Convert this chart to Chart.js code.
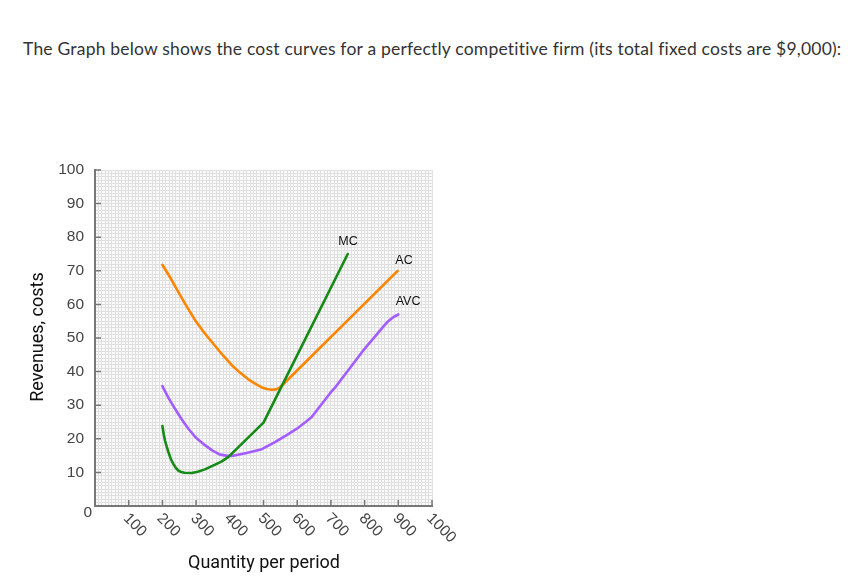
<!DOCTYPE html>
<html lang="en">
<head>
  <meta charset="UTF-8">
  <title>Cost curves</title>
  <style>
    body, html {
      margin: 0;
      padding: 0;
      background: #fff;
      width: 862px;
      height: 587px;
      overflow: hidden;
    }
    .question {
      position: absolute;
      left: 23px;
      top: 38px;
      font-family: Lato, sans-serif;
      font-size: 17.5px;
      letter-spacing: 0.2px;
      color: #333;
      white-space: nowrap;
    }
    #chart {
      position: absolute;
      left: 0;
      top: 0;
    }
  </style>
</head>
<body>
  <div class="question">The Graph below shows the cost curves for a perfectly competitive firm (its total fixed costs are $9,000):</div>
  <canvas id="chart" width="862" height="587"></canvas>

  <script src="https://cdn.jsdelivr.net/npm/chart.js"></script>
  <script>
    // data (quantity, cost)
    var mcQty  = [200, 204, 208, 213, 218, 225, 232, 240, 248, 256, 265, 287, 305, 326, 350, 375, 396, 500, 750];
    var mcCost = [23.8, 21.3, 19.4, 17.6, 16.0, 14.0, 12.6, 11.3, 10.5, 10.1, 9.9, 9.8, 10.2, 10.9, 12.0, 13.2, 14.6, 24.8, 75];

    var acQty  = [200, 225, 247, 272, 297, 325, 351, 380, 406, 430, 455, 475, 495, 510, 525, 537, 548, 898];
    var acCost = [71.8, 67.7, 63.7, 59.4, 55.3, 51.5, 48.3, 44.8, 41.9, 39.7, 37.7, 36.4, 35.3, 34.8, 34.6, 34.7, 35.2, 70];

    var avcQty  = [200, 218, 237, 257, 277, 300, 326, 350, 371, 390, 406, 450, 495, 534, 570, 599, 625, 643, 670, 697, 712, 796, 840, 855, 870, 885, 900];
    var avcCost = [35.7, 32.2, 29, 25.8, 23, 20.3, 18.1, 16.4, 15.3, 15, 14.9, 15.8, 16.9, 19, 21.2, 23, 25, 26.5, 30, 33.5, 35.2, 46.3, 51.5, 53.3, 55, 56.2, 57];

    var xTicks = [100, 200, 300, 400, 500, 600, 700, 800, 900, 1000];
    var yTicks = [10, 20, 30, 40, 50, 60, 70, 80, 90, 100];

    var curveNames = ['MC', 'AC', 'AVC'];
    var curveColors = ['#168a16', '#ff8400', '#a35cff'];
    // where each curve's name sits, in data units
    var nameAt = [[751, 78.7], [917, 73], [929, 60.8]];

    function pts(xs, ys) {
      return xs.map(function (x, i) { return { x: x, y: ys[i] }; });
    }

    var axisPlugin = {
      id: 'axisPlugin',
      afterDatasetsDraw: function (chart) {
        var ctx = chart.ctx;
        var xs = chart.scales.x, ys = chart.scales.y;
        var left = xs.getPixelForValue(0), bottom = ys.getPixelForValue(0);
        var right = xs.getPixelForValue(1000), top = ys.getPixelForValue(100);
        ctx.save();
        // axis lines
        ctx.strokeStyle = '#777';
        ctx.lineWidth = 2;
        ctx.beginPath();
        ctx.moveTo(left, top - 1);
        ctx.lineTo(left, bottom);
        ctx.lineTo(right + 1, bottom);
        ctx.stroke();
        ctx.lineWidth = 1.5;
        ctx.beginPath();
        yTicks.forEach(function (v) {
          var y = ys.getPixelForValue(v);
          ctx.moveTo(left, y);
          ctx.lineTo(left + 6, y);
        });
        xTicks.forEach(function (v) {
          var x = xs.getPixelForValue(v);
          ctx.moveTo(x, bottom);
          ctx.lineTo(x, bottom - 6);
        });
        ctx.stroke();

        // tick labels
        ctx.fillStyle = '#444';
        ctx.font = '15.5px "Liberation Sans", Arial, sans-serif';
        ctx.textAlign = 'right';
        ctx.textBaseline = 'middle';
        yTicks.forEach(function (v) {
          ctx.fillText(String(v), left - 11, ys.getPixelForValue(v));
        });
        ctx.fillText('0', left - 3, bottom + 7);
        ctx.textAlign = 'left';
        xTicks.forEach(function (v) {
          var x = xs.getPixelForValue(v);
          ctx.save();
          ctx.translate(x - 3, bottom + 10);
          ctx.rotate(Math.PI / 4);
          ctx.fillText(String(v), 0, 0);
          ctx.restore();
        });

        // axis titles
        ctx.fillStyle = '#111';
        ctx.font = '18px Roboto, sans-serif';
        ctx.textAlign = 'center';
        ctx.fillText('Quantity per period', 264, 563);
        ctx.save();
        ctx.translate(38, 337);
        ctx.rotate(-Math.PI / 2);
        ctx.fillText('Revenues, costs', 0, 0);
        ctx.restore();

        // curve names
        ctx.font = '12.5px "Liberation Sans", Arial, sans-serif';
        ctx.fillStyle = '#111';
        curveNames.forEach(function (name, i) {
          ctx.fillText(name, xs.getPixelForValue(nameAt[i][0]), ys.getPixelForValue(nameAt[i][1]));
        });
        ctx.restore();
      }
    };

    var bgPlugin = {
      id: 'bgPlugin',
      beforeDraw: function (chart) {
        var a = chart.chartArea;
        chart.ctx.save();
        chart.ctx.fillStyle = '#fafafa';
        chart.ctx.fillRect(a.left, a.top, a.right - a.left, a.bottom - a.top);
        chart.ctx.restore();
      }
    };

    var series = [pts(mcQty, mcCost), pts(acQty, acCost), pts(avcQty, avcCost)];

    new Chart(document.getElementById('chart'), {
      type: 'line',
      data: {
        datasets: series.map(function (d, i) {
          return {
            label: curveNames[i],
            data: d,
            borderColor: curveColors[i],
            borderWidth: 2.6,
            borderJoinStyle: 'round',
            borderCapStyle: 'round',
            pointRadius: 0,
            fill: false,
            tension: 0
          };
        })
      },
      options: {
        responsive: false,
        animation: false,
        layout: { padding: { left: 95, right: 430, top: 170, bottom: 81 } },
        plugins: { legend: { display: false }, tooltip: { enabled: false } },
        scales: {
          x: {
            type: 'linear',
            min: 0, max: 1000,
            ticks: { display: false, stepSize: 10, maxTicksLimit: 200 },
            grid: { color: '#e0e0e0', lineWidth: 1, drawTicks: false },
            border: { display: false }
          },
          y: {
            type: 'linear',
            min: 0, max: 100,
            ticks: { display: false, stepSize: 1, maxTicksLimit: 200 },
            grid: { color: '#e0e0e0', lineWidth: 1, drawTicks: false },
            border: { display: false }
          }
        }
      },
      plugins: [bgPlugin, axisPlugin]
    });
  </script>
</body>
</html>
